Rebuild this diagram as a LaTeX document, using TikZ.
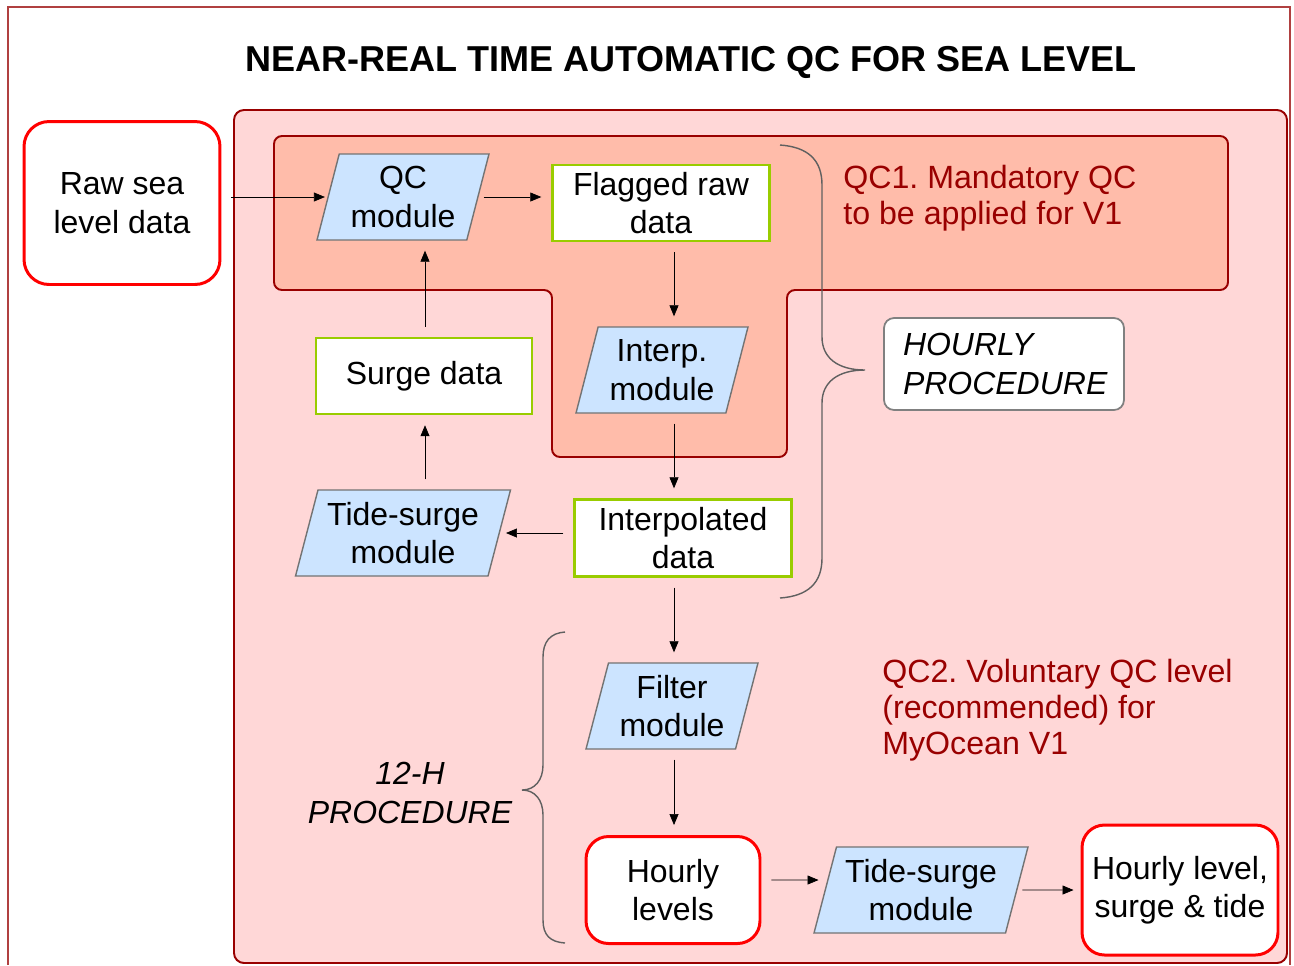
\documentclass[tikz,border=0pt]{standalone}
\usepackage{fontspec}
\setmainfont{Liberation Sans}
\usetikzlibrary{shapes.geometric,arrows.meta,positioning}
\definecolor{pinkbg}{HTML}{FFD7D7}
\definecolor{salmon}{HTML}{FFBCAA}
\definecolor{darkred}{HTML}{990000}
\definecolor{modblue}{HTML}{CCE4FF}
\definecolor{datgreen}{HTML}{99CC00}
\definecolor{framered}{HTML}{B04040}
\frenchspacing
\newcommand{\mainsz}{\fontsize{18.2}{21.8}\selectfont}
\tikzstyle{modl}=[trapezium,trapezium left angle=73,trapezium right angle=107,trapezium stretches body,draw=gray!90!black,fill=modblue,line width=0.8pt,align=center,inner xsep=0pt,minimum width=3.44cm,minimum height=1.72cm,font=\mainsz]
\tikzstyle{datbox}=[rectangle,draw=datgreen,fill=white,line width=1.4pt,align=center,minimum width=4.34cm,minimum height=1.52cm,font=\mainsz]
\tikzstyle{endbox}=[rectangle,draw=red,fill=white,rounded corners=0.45cm,line width=1.7pt,align=center,font=\mainsz]
\tikzstyle{note}=[align=left,inner sep=0pt,text=darkred,font=\fontsize{18.3}{20.5}\selectfont]
\tikzstyle{arr}=[-{Triangle[length=2.2mm,width=1.8mm]},thin,shorten <=2mm,shorten >=2mm]
\tikzstyle{brc}=[draw=gray!75!black,line width=0.8pt]

\begin{document}
\begin{tikzpicture}[x=0.02cm,y=-0.02cm]
\useasboundingbox (0,0) rectangle (1294,965);
% frame and shaded regions
\draw[framered,line width=0.6pt] (8,965) -- (8,7) -- (1290,7) -- (1290,965);
\draw[darkred,fill=pinkbg,line width=1.1pt,rounded corners=0.2cm] (234,110) rectangle (1287,963);
\draw[darkred,fill=salmon,line width=1.1pt,rounded corners=0.16cm] (274,136) -- (1228,136) -- (1228,290) -- (787,290) -- (787,457) -- (552,457) -- (552,290) -- (274,290) -- cycle;
% braces
\draw[brc] (780,145) .. controls (808,147) and (822,160) .. (822,185) -- (822,337) .. controls (822,358) and (838,370) .. (865,370) .. controls (838,370) and (822,382) .. (822,403) -- (822,558) .. controls (822,583) and (808,596) .. (780,598);
\draw[brc] (565,632) .. controls (550,633) and (543,642) .. (543,657) -- (543,765) .. controls (543,780) and (535,790) .. (522,790) .. controls (535,790) and (543,800) .. (543,815) -- (543,920) .. controls (543,935) and (550,942) .. (565,943);

\node (title) at (691,62) {\fontsize{20.5}{24}\selectfont\bfseries NEAR-REAL TIME AUTOMATIC QC FOR SEA LEVEL};

\node (raw) [endbox,minimum width=3.92cm,minimum height=3.26cm,rounded corners=0.5cm] at (122,203) {Raw sea\\level data};
\node (qc) [modl] at (403,197) {QC\\module};
\node (flagged) [datbox] at (661,203) {Flagged raw\\data};
\node (interp) [modl] at (662,370) {Interp.\\module};
\node (surge) [datbox,minimum width=4.32cm] at (424,376) {Surge data};
\node (tsu) [modl,minimum width=4.3cm] at (403,533) {Tide-surge\\module};
\node (interpd) [datbox,minimum height=1.54cm] at (683,538) {Interpolated\\data};
\node (filter) [modl] at (672,706) {Filter\\module};
\node (hourly) [endbox,minimum width=3.48cm,minimum height=2.14cm] at (673,890) {Hourly\\levels};
\node (tsl) [modl,minimum width=4.28cm] at (921,890) {Tide-surge\\module};
\node (final) [endbox,minimum width=3.92cm,minimum height=2.6cm] at (1180,890) {Hourly level,\\surge \& tide};

\node (hrproc) [draw=gray,line width=1pt,fill=white,rounded corners=0.2cm,align=left,text width=4.04cm,inner xsep=0.38cm,minimum height=1.84cm,font=\mainsz\itshape] at (1004,364) {HOURLY\\PROCEDURE};
\node (twelve) [align=center,font=\mainsz\itshape] at (410,793) {12-H\\PROCEDURE};
\node (qc1) [note,anchor=west] at (843,198) {QC1. Mandatory QC\\to be applied for V1};
\node (qc2) [note,anchor=west] at (882,710) {QC2. Voluntary QC level\\(recommended) for\\MyOcean V1};

\coordinate (colm) at (674,0);
\coordinate (cols) at (425,0);
\draw[arr,shorten >=0.5mm] (raw.east |- qc.west) -- (qc.west);
\draw[arr,shorten <=1mm] (qc.east) -- (flagged.west |- qc.east);
\draw[arr] (flagged.south -| colm) -- (interp.north -| colm);
\draw[arr] (interp.south -| colm) -- (interpd.north -| colm);
\draw[arr,shorten >=1.2mm] (interpd.west |- tsu.east) -- (tsu.east);
\draw[arr] (tsu.north -| cols) -- (surge.south -| cols);
\draw[arr] (surge.north -| cols) -- (qc.south -| cols);
\draw[arr] (interpd.south -| colm) -- (filter.north -| colm);
\draw[arr] (filter.south -| colm) -- (hourly.north -| colm);
\draw[arr,shorten >=1.2mm] ([yshift=0.2cm]hourly.east) -- ([yshift=0.2cm]tsl.west);
\draw[arr,shorten <=1mm,shorten >=1.4mm] (tsl.east) -- (final.west);
\end{tikzpicture}
\end{document}
